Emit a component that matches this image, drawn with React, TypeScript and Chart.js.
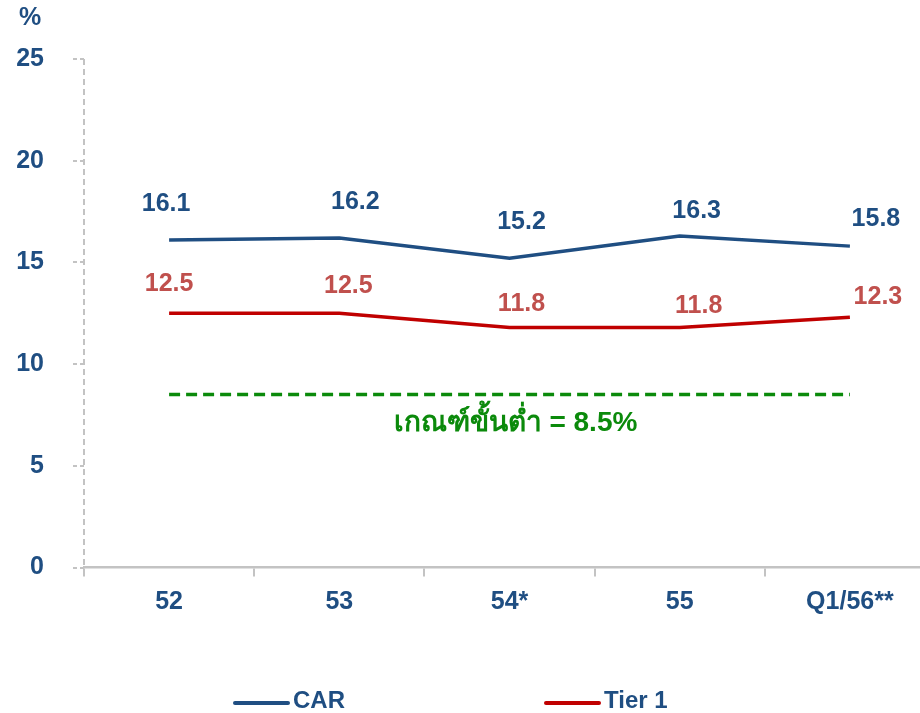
import { useEffect, useRef } from "react";
import { Chart, registerables } from "chart.js";

Chart.register(...registerables);

// ---- data ----
const categories = ["52", "53", "54*", "55", "Q1/56**"];
const carValues = [16.1, 16.2, 15.2, 16.3, 15.8];
const tier1Values = [12.5, 12.5, 11.8, 11.8, 12.3];
const minimumValues = [8.5, 8.5, 8.5, 8.5, 8.5];
const yTicks = [0, 5, 10, 15, 20, 25];
const minimumLabel = "เกณฑ์ขั้นต่ำ = 8.5%";
const unitLabel = "%";
const seriesNames = ["CAR", "Tier 1"];

// ---- styles ----
const FONT = "'Liberation Sans', Arial, Helvetica, sans-serif";
const BLUE = "#1f4e82";
const RED_LINE = "#c00000";
const RED_TEXT = "#c0504d";
const GREEN = "#0b8a0b";
const GRAY = "#c3c3c3";

// label nudges relative to each point (dx, dy)
const carOffsets = [[-3, -36], [16, -36], [12, -36], [17, -25], [26, -27]];
const tier1Offsets = [[0, -29], [9, -27], [12, -23], [19, -21], [28, -20]];
const legendStarts = [235, 546];

const yAxisLinePlugin = {
  id: "dashedYAxis",
  beforeDatasetsDraw(chart: any) {
    const ctx = chart.ctx as CanvasRenderingContext2D;
    const { left, top, bottom } = chart.chartArea;
    ctx.save();
    ctx.beginPath();
    ctx.strokeStyle = GRAY;
    ctx.lineWidth = 2;
    ctx.setLineDash([6, 4]);
    ctx.moveTo(left, top);
    ctx.lineTo(left, bottom);
    ctx.stroke();
    ctx.restore();
  },
};

const labelsPlugin = {
  id: "customLabels",
  afterDatasetsDraw(chart: any) {
    const ctx = chart.ctx as CanvasRenderingContext2D;
    ctx.save();
    ctx.font = `bold 25px ${FONT}`;
    ctx.textAlign = "center";
    ctx.textBaseline = "middle";
    const offsets = [carOffsets, tier1Offsets];
    [0, 1].forEach((di) => {
      const meta = chart.getDatasetMeta(di);
      const ds = chart.data.datasets[di];
      meta.data.forEach((pt: any, i: number) => {
        const [dx, dy] = offsets[di][i];
        ctx.fillStyle = di === 0 ? BLUE : RED_TEXT;
        ctx.fillText(Number(ds.data[i]).toFixed(1), pt.x + dx, pt.y + dy);
      });
    });
    const xs = chart.scales.x;
    const ys = chart.scales.y;
    ctx.fillStyle = GREEN;
    ctx.font = `bold 28px ${FONT}`;
    ctx.fillText(
      minimumLabel,
      xs.getPixelForValue(2) + 6,
      ys.getPixelForValue(minimumValues[2]) + 29
    );
    ctx.font = `bold 25px ${FONT}`;
    ctx.fillStyle = BLUE;
    ctx.fillText(unitLabel, 30, chart.chartArea.top - 41);

    // legend
    const ly = 703;
    [0, 1].forEach((di) => {
      const x0 = legendStarts[di];
      ctx.beginPath();
      ctx.lineWidth = 4;
      ctx.lineCap = "round";
      ctx.strokeStyle = di === 0 ? BLUE : RED_LINE;
      ctx.moveTo(x0, ly);
      ctx.lineTo(x0 + 53, ly);
      ctx.stroke();
      ctx.fillStyle = BLUE;
      ctx.textAlign = "left";
      ctx.font = `bold 24px ${FONT}`;
      ctx.fillText(seriesNames[di], x0 + 58, ly - 2);
    });
    ctx.restore();
  },
};

export default function App() {
  const ref = useRef<HTMLCanvasElement | null>(null);

  useEffect(() => {
    document.body.style.margin = "0";
    document.body.style.overflow = "hidden";
    Chart.defaults.font.family = FONT;
    const chart = new Chart(ref.current as HTMLCanvasElement, {
      type: "line",
      data: {
        labels: categories,
        datasets: [
          {
            label: seriesNames[0],
            data: carValues,
            borderColor: BLUE,
            borderWidth: 3.5,
            pointRadius: 0,
            tension: 0,
          },
          {
            label: seriesNames[1],
            data: tier1Values,
            borderColor: RED_LINE,
            borderWidth: 3.5,
            pointRadius: 0,
            tension: 0,
          },
          {
            label: "minimum",
            data: minimumValues,
            borderColor: GREEN,
            borderWidth: 3.5,
            borderDash: [11, 6],
            borderCapStyle: "butt",
            pointRadius: 0,
            tension: 0,
          },
        ],
      },
      options: {
        animation: false,
        responsive: false,
        maintainAspectRatio: false,
        layout: { padding: { top: 59, right: 5, bottom: 65.5, left: 0 } },
        plugins: { legend: { display: false }, tooltip: { enabled: false } },
        scales: {
          x: {
            offset: true,
            grid: {
              offset: true,
              drawOnChartArea: false,
              drawTicks: true,
              tickLength: 9,
              color: GRAY,
              lineWidth: 2,
            },
            border: { color: GRAY, width: 2.5 },
            ticks: {
              color: BLUE,
              font: { size: 25, weight: "bold" },
              padding: 11,
            },
            afterFit: (s: any) => {
              s.height = 80;
            },
          },
          y: {
            min: 0,
            max: 25,
            afterBuildTicks: (s: any) => {
              s.ticks = yTicks.map((v) => ({ value: v }));
            },
            ticks: {
              color: BLUE,
              font: { size: 25, weight: "bold" },
              padding: 29,
            },
            grid: {
              drawOnChartArea: false,
              tickLength: 11,
              color: GRAY,
              lineWidth: 2,
              tickBorderDash: [4, 3],
            },
            border: { display: false },
            afterFit: (s: any) => {
              s.width = 84;
            },
          },
        },
      } as any,
      plugins: [yAxisLinePlugin, labelsPlugin],
    });
    return () => chart.destroy();
  }, []);

  return (
    <div style={{ width: 940, height: 713, position: "relative" }}>
      <canvas ref={ref} width={940} height={713} style={{ display: "block" }} />
    </div>
  );
}
